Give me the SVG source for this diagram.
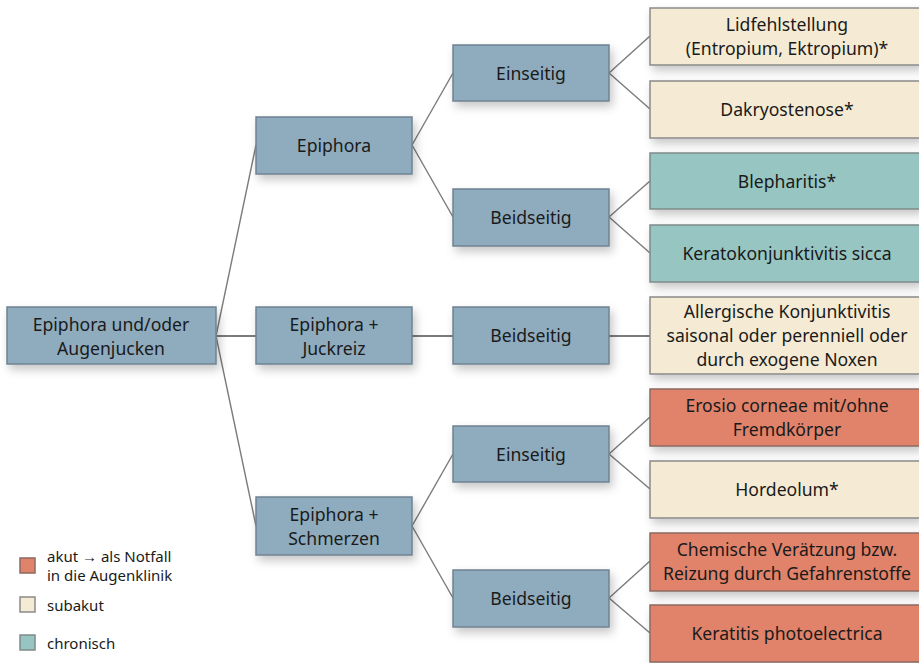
<svg xmlns="http://www.w3.org/2000/svg" width="919" height="663" viewBox="0 0 919 663">
<defs>
<filter id="sh" x="-20%" y="-30%" width="140%" height="170%">
<feDropShadow dx="3" dy="5" stdDeviation="5" flood-color="#000" flood-opacity="0.22"/>
</filter>
<style>
.n{fill:#8fabbe;stroke:#6f8391;stroke-width:1.5;filter:url(#sh)}
.sub{fill:#f5ead3;stroke:#8a8a8a;stroke-width:1.5;filter:url(#sh)}
.chr{fill:#97c5c1;stroke:#7f8a89;stroke-width:1.5;filter:url(#sh)}
.ak{fill:#e0836b;stroke:#8c6a60;stroke-width:1.5;filter:url(#sh)}
text{font-family:"Noto Sans","Liberation Sans",sans-serif;font-size:17.6px;fill:#1a1a1a;text-anchor:middle}
.lg{font-size:15px;text-anchor:start}
.c line{stroke:#7b7b7b;stroke-width:1.4}
</style>
</defs>
<rect width="919" height="663" fill="#fff"/>
<g class="c" id="connectors">
<line x1="216" y1="336" x2="256" y2="145"/>
<line x1="216" y1="336" x2="256" y2="336" style="stroke-width:2"/>
<line x1="216" y1="336" x2="256" y2="526"/>
<line x1="412" y1="145" x2="453" y2="73"/>
<line x1="412" y1="145" x2="453" y2="217"/>
<line x1="412" y1="336" x2="453" y2="336" style="stroke-width:2"/>
<line x1="412" y1="526" x2="453" y2="454"/>
<line x1="412" y1="526" x2="453" y2="598"/>
<line x1="609" y1="73" x2="650" y2="36"/>
<line x1="609" y1="73" x2="650" y2="109"/>
<line x1="609" y1="217" x2="650" y2="181"/>
<line x1="609" y1="217" x2="650" y2="253"/>
<line x1="609" y1="336" x2="650" y2="336" style="stroke-width:2"/>
<line x1="609" y1="454" x2="650" y2="417"/>
<line x1="609" y1="454" x2="650" y2="489"/>
<line x1="609" y1="598" x2="650" y2="561"/>
<line x1="609" y1="598" x2="650" y2="633"/>
</g>
<g id="root"><rect class="n" x="7" y="307" width="209" height="57"/><text x="111" y="331">Epiphora und/oder</text><text x="111" y="355">Augenjucken</text></g>
<g id="epiphora"><rect class="n" x="256" y="117" width="156" height="57"/><text x="334" y="152">Epiphora</text></g>
<g id="juckreiz"><rect class="n" x="256" y="307" width="156" height="57"/><text x="334" y="331">Epiphora +</text><text x="334" y="355">Juckreiz</text></g>
<g id="schmerzen"><rect class="n" x="256" y="497" width="156" height="58"/><text x="334" y="521">Epiphora +</text><text x="334" y="545">Schmerzen</text></g>
<g id="ein1"><rect class="n" x="453" y="45" width="156" height="56"/><text x="531" y="80">Einseitig</text></g>
<g id="beid1"><rect class="n" x="453" y="189" width="156" height="57"/><text x="531" y="224">Beidseitig</text></g>
<g id="beid2"><rect class="n" x="453" y="307" width="156" height="57"/><text x="531" y="342">Beidseitig</text></g>
<g id="ein3"><rect class="n" x="453" y="426" width="156" height="56"/><text x="531" y="461">Einseitig</text></g>
<g id="beid3"><rect class="n" x="453" y="570" width="156" height="57"/><text x="531" y="605">Beidseitig</text></g>
<g id="lid"><rect class="sub" x="650" y="8" width="270" height="57"/><text x="787" y="31">Lidfehlstellung</text><text x="787" y="55">(Entropium, Ektropium)*</text></g>
<g id="dakryo"><rect class="sub" x="650" y="81" width="270" height="57"/><text x="787" y="116">Dakryostenose*</text></g>
<g id="bleph"><rect class="chr" x="650" y="153" width="270" height="56"/><text x="787" y="188">Blepharitis*</text></g>
<g id="kerato"><rect class="chr" x="650" y="225" width="270" height="57"/><text x="787" y="260">Keratokonjunktivitis sicca</text></g>
<g id="allerg"><rect class="sub" x="650" y="297" width="270" height="77"/><text x="787" y="318">Allergische Konjunktivitis</text><text x="787" y="342">saisonal oder perenniell oder</text><text x="787" y="366">durch exogene Noxen</text></g>
<g id="erosio"><rect class="ak" x="650" y="389" width="270" height="57"/><text x="787" y="412">Erosio corneae mit/ohne</text><text x="787" y="436">Fremdkörper</text></g>
<g id="hordeolum"><rect class="sub" x="650" y="461" width="270" height="57"/><text x="787" y="496">Hordeolum*</text></g>
<g id="chem"><rect class="ak" x="650" y="533" width="270" height="58"/><text x="787" y="556">Chemische Verätzung bzw.</text><text x="787" y="580">Reizung durch Gefahrenstoffe</text></g>
<g id="photo"><rect class="ak" x="650" y="605" width="270" height="57"/><text x="787" y="640">Keratitis photoelectrica</text></g>
<g id="legend">
<rect class="ak" x="20" y="558" width="15" height="15" style="filter:none"/>
<text class="lg" x="47" y="562">akut → als Notfall</text>
<text class="lg" x="47" y="581">in die Augenklinik</text>
<rect class="sub" x="20" y="597" width="15" height="15" style="filter:none"/>
<text class="lg" x="47" y="611">subakut</text>
<rect class="chr" x="20" y="635" width="15" height="15" style="filter:none"/>
<text class="lg" x="47" y="649">chronisch</text>
</g>
</svg>
